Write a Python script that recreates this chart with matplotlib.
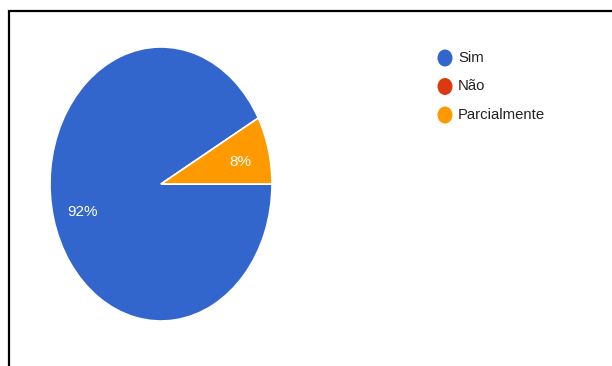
import math
import matplotlib
matplotlib.use("Agg")
import matplotlib.pyplot as plt
from matplotlib.patches import Ellipse
from matplotlib.lines import Line2D

plt.rcParams['font.family'] = ['Liberation Sans', 'DejaVu Sans']

categories = ["Sim", "Não", "Parcialmente"]
values = [92, 0, 8]
colors = ["#3366CC", "#DC3912", "#FF9900"]

W, H = 612, 366
fig = plt.figure(figsize=(W / 100, H / 100), dpi=100)
fig.patch.set_facecolor("white")

# pie occupies a box of 222 x 274 px centred at (161, 184)
cx, cy, rx, ry = 161, 184, 111, 137
ax = fig.add_axes([(cx - rx) / W, (H - cy - ry) / H, 2 * rx / W, 2 * ry / H])
total = sum(values)
start = 360 * values[-1] / total
wedges, _ = ax.pie(values, colors=colors, startangle=start, counterclock=True,
                   radius=1.0, wedgeprops=dict(edgecolor="white", linewidth=1.2))
ax.set_aspect("auto")
ax.set_xlim(-1, 1)
ax.set_ylim(-1, 1)
ax.axis("off")

# percentage labels placed along each wedge's mid-angle
ang = start
for v in values:
    if v == 0:
        continue
    span = 360 * v / total
    mid = math.radians(ang + span / 2)
    r = 0.73 if v > 50 else 0.74
    ax.text(r * math.cos(mid), r * math.sin(mid) - 0.025,
            f"{round(100 * v / total)}%", ha="center", va="center",
            color="white", fontsize=11)
    ang += span

# overlay for legend and frame lines, in pixel coordinates
ov = fig.add_axes([0, 0, 1, 1])
ov.set_xlim(0, W)
ov.set_ylim(H, 0)
ov.axis("off")
ov.patch.set_alpha(0)

leg_x, leg_y0, leg_dy = 445, 58, 28.5
for i, (name, c) in enumerate(zip(categories, colors)):
    y = leg_y0 + i * leg_dy
    ov.add_patch(Ellipse((leg_x, y), 15, 17, facecolor=c, edgecolor="none"))
    ov.text(leg_x + 13, y, name, ha="left", va="center", color="#222222",
            fontsize=10.7)

ov.add_line(Line2D([8.8, W], [10.5, 10.5], color="black", linewidth=1.6,
                   solid_capstyle="butt"))
ov.add_line(Line2D([8.8, 8.8], [9.7, H], color="black", linewidth=1.6,
                   solid_capstyle="butt"))

fig.savefig("out.png", dpi=100, facecolor="white")
